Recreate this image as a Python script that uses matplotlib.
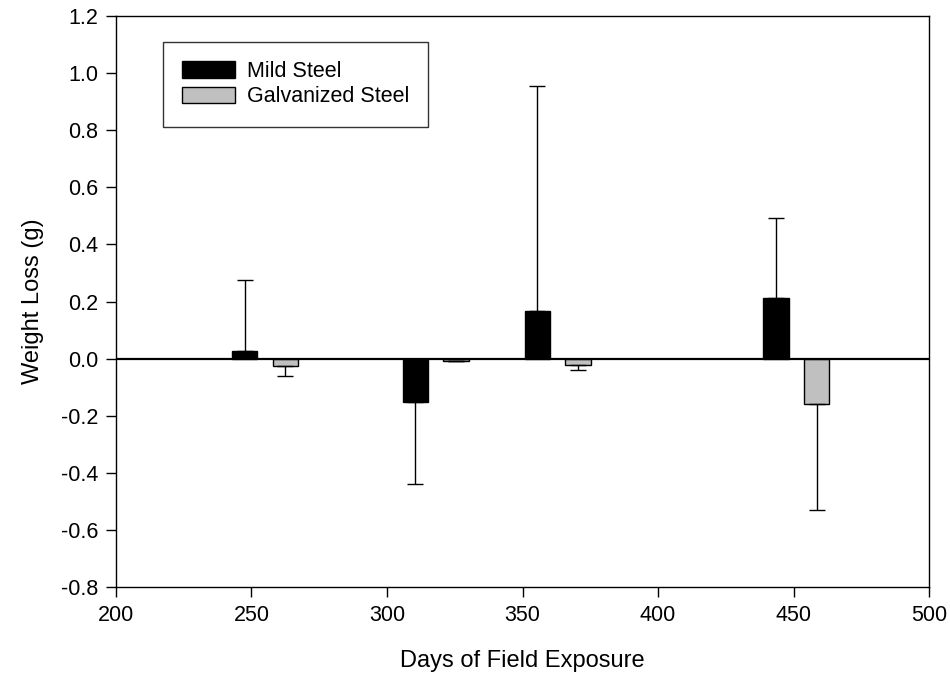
import numpy as np
import matplotlib
matplotlib.use("Agg")
import matplotlib.pyplot as plt

plt.rcParams["font.family"] = ["Liberation Sans", "DejaVu Sans"]

# group centres (days of field exposure)
days = [255, 318, 363, 451]
mild = [0.028, -0.152, 0.168, 0.211]
mild_err = [0.248, 0.286, 0.787, 0.283]
galv = [-0.025, -0.008, -0.022, -0.159]
galv_err = [0.037, 0.0, 0.017, 0.370]

xticks = [200, 250, 300, 350, 400, 450, 500]
yticks = [-0.8, -0.6, -0.4, -0.2, 0.0, 0.2, 0.4, 0.6, 0.8, 1.0, 1.2]

OFFSET = 7.5
WIDTH = 9.4


def one_sided(vals, errs):
    vals, errs = np.array(vals), np.array(errs)
    lower = np.where(vals < 0, errs, 0)
    upper = np.where(vals >= 0, errs, 0)
    return [lower, upper]


fig = plt.figure(figsize=(9.5, 6.81), dpi=100)
ax = fig.add_axes([0.1221, 0.138, 0.8558, 0.8385])

x = np.array(days)
ax.bar(x - OFFSET, mild, width=WIDTH, color="black", edgecolor="black",
       linewidth=1, label="Mild Steel", zorder=2)
ax.bar(x + OFFSET, galv, width=WIDTH, color="#c0c0c0", edgecolor="black",
       linewidth=1, label="Galvanized Steel", zorder=2)
ax.errorbar(x - OFFSET, mild, yerr=one_sided(mild, mild_err), fmt="none",
            ecolor="black", elinewidth=1, capsize=6, capthick=1, zorder=3)
ax.errorbar(x + OFFSET, galv, yerr=one_sided(galv, galv_err), fmt="none",
            ecolor="black", elinewidth=1, capsize=6, capthick=1, zorder=3)

ax.axhline(0, color="black", linewidth=1.6, zorder=4)

ax.set_xlim(200, 500)
ax.set_ylim(-0.8, 1.2)
ax.set_xticks(xticks)
ax.set_yticks(yticks)
ax.set_yticklabels([f"{v:.1f}" for v in yticks])
ax.tick_params(direction="out", length=7, width=1, labelsize=15.5, pad=6)
for s in ax.spines.values():
    s.set_linewidth(1)

ax.set_xlabel("Days of Field Exposure", fontsize=17, labelpad=17)
ax.set_ylabel("Weight Loss (g)", fontsize=17, labelpad=12)

leg = ax.legend(loc="upper left", bbox_to_anchor=(0.0575, 0.955), fontsize=15.5,
                frameon=True, fancybox=False, edgecolor="black",
                handlelength=2.45, handleheight=0.8, labelspacing=0.2,
                borderpad=0.9, handletextpad=0.55, borderaxespad=0)
leg.get_frame().set_linewidth(1)

fig.savefig("out.png", dpi=100)
